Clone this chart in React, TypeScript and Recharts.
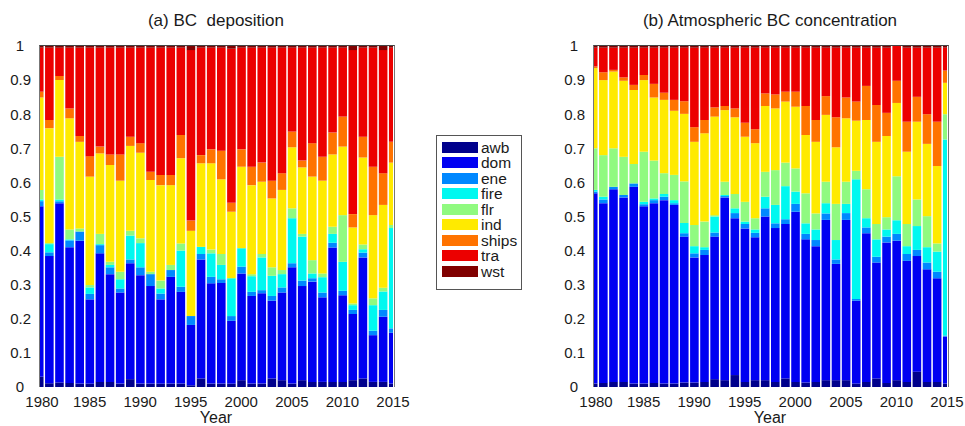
import React from 'react';
import { BarChart, Bar, XAxis, YAxis } from 'recharts';

// source categories, bottom to top of each stack
const CATEGORIES = ['awb', 'dom', 'ene', 'fire', 'flr', 'ind', 'ships', 'tra', 'wst'];
const COLORS: Record<string, string> = {
  awb: '#00008c',
  dom: '#0000f2',
  ene: '#0088ff',
  fire: '#00f8f0',
  flr: '#90fa80',
  ind: '#ffea00',
  ships: '#ff7300',
  tra: '#ec0000',
  wst: '#800000',
};

const YEARS = [
  1980, 1981, 1982, 1983, 1984, 1985, 1986, 1987, 1988, 1989, 1990, 1991,
  1992, 1993, 1994, 1995, 1996, 1997, 1998, 1999, 2000, 2001, 2002, 2003,
  2004, 2005, 2006, 2007, 2008, 2009, 2010, 2011, 2012, 2013, 2014, 2015,
];
const X_TICKS = [1980, 1985, 1990, 1995, 2000, 2005, 2010, 2015];
const Y_TICKS = [0, 0.1, 0.2, 0.3, 0.4, 0.5, 0.6, 0.7, 0.8, 0.9, 1];

// (a) BC deposition, fraction by source
const depAwb = [.03, .011, .013, .012, .01, .01, .015, .015, .01, .023, .01, .01, .01, .01, .01, .005, .025, .01, .01, .01, .02, .01, .01, .025, .02, .01, .02, .015, .015, .015, .015, .02, .025, .015, .015, .01];
const depDom = [.50, .373, .526, .398, .419, .247, .377, .316, .267, .34, .318, .286, .247, .313, .269, .177, .349, .294, .295, .184, .313, .257, .265, .228, .257, .341, .276, .294, .248, .394, .254, .194, .355, .137, .191, .149];
const depEne = [.015, .011, .006, .02, .027, .016, .024, .02, .012, .011, .023, .035, .017, .02, .015, .026, .016, .019, .011, .014, .02, .012, .009, .014, .015, .012, .016, .01, .014, .014, .013, .012, .014, .013, .02, .013];
const depFire = [.005, .024, .005, .003, 0, .019, .003, .007, .027, .07, .071, 0, .015, 0, .106, 0, .021, .069, .042, .111, .054, .046, .096, .059, .039, .132, .129, .014, .045, .026, .085, .014, .01, .075, .054, .294];
const depFlr = [.028, .003, .125, .029, .009, .007, .03, .009, .022, .014, .014, .007, .023, .015, .021, 0, 0, .011, .032, 0, 0, .006, .01, .025, .012, .029, .008, .039, .011, .021, .137, .005, .014, .02, .011, .009];
const depInd = [.271, .337, .225, .326, .254, .318, .236, .284, .267, .249, .251, .269, .28, .234, .25, .25, .245, .253, .219, .195, .239, .261, .212, .202, .235, .179, .195, .245, .272, .212, .201, .223, .255, .244, .243, .183];
const depShips = [.017, .024, .012, .029, .017, .06, .02, .031, .077, .027, .028, .024, .03, .03, .068, .03, .024, .041, .084, .026, .051, .054, .056, .052, .049, .046, .02, .098, .07, .064, .088, .039, .061, .142, .093, .061];
const depTra = [.129, .212, .083, .178, .259, .318, .29, .313, .313, .261, .28, .364, .373, .373, .256, .50, .315, .298, .302, .452, .298, .349, .337, .39, .368, .246, .331, .28, .32, .249, .202, .481, .261, .349, .361, .276];
const depWst = [.005, .005, .005, .005, .005, .005, .005, .005, .005, .005, .005, .005, .005, .005, .005, .012, .005, .005, .005, .008, .005, .005, .005, .005, .005, .005, .005, .005, .005, .005, .005, .012, .005, .005, .012, .005];

// (b) atmospheric BC concentration, fraction by source
const concAwb = [.01, .012, .015, .015, .01, .01, .012, .01, .01, .013, .013, .015, .023, .02, .035, .015, .02, .02, .015, .025, .015, .013, .015, .02, .02, .02, .01, .015, .025, .012, .02, .015, .045, .015, .015, .01];
const concDom = [.558, .527, .565, .541, .577, .52, .527, .538, .524, .428, .367, .372, .418, .536, .46, .45, .419, .48, .451, .453, .499, .42, .398, .47, .341, .47, .243, .436, .34, .412, .409, .355, .339, .33, .304, .138];
const concEne = [.005, .011, .007, .007, .01, .006, .009, .01, .005, .01, .012, .015, .012, .004, .015, .013, .013, .024, .014, .014, .023, .016, .018, .019, .013, .02, .005, .017, .017, .017, .02, .02, .018, .02, .019, .003];
const concFire = [.005, .008, 0, 0, 0, .007, .005, .008, .009, .03, .021, .008, .047, .003, .014, .007, .01, .034, .054, .097, .036, .031, .031, .03, .057, .027, .351, .027, .051, .021, .04, .023, .07, .045, .059, .575];
const concFlr = [.122, .122, .113, .112, .057, .147, .111, .061, .074, .122, .062, .075, .004, .039, .042, .058, .033, .073, .102, .069, .068, .088, .047, .063, .106, .065, .025, .085, .045, .036, .129, .065, .078, .091, .024, .074];
const concInd = [.235, .22, .225, .223, .217, .21, .185, .215, .188, .198, .244, .259, .289, .21, .225, .191, .22, .193, .181, .179, .181, .171, .21, .196, .166, .186, .147, .203, .241, .238, .215, .212, .228, .212, .227, .092];
const concShips = [.005, .023, .005, .01, .015, .015, .04, .021, .032, .037, .043, .039, .027, .012, .026, .041, .041, .037, .041, .029, .044, .085, .064, .055, .088, .061, .056, .10, .108, .068, .065, .088, .073, .087, .13, .036];
const concTra = [.055, .072, .065, .087, .109, .08, .106, .132, .153, .157, .233, .212, .175, .171, .178, .22, .239, .134, .137, .129, .129, .171, .212, .142, .204, .146, .158, .112, .168, .191, .137, .217, .144, .195, .217, .067];
const concWst = [.005, .005, .005, .005, .005, .005, .005, .005, .005, .005, .005, .005, .005, .005, .005, .005, .005, .005, .005, .005, .005, .005, .005, .005, .005, .005, .005, .005, .005, .005, .005, .005, .005, .005, .005, .005];

const depSeries = [depAwb, depDom, depEne, depFire, depFlr, depInd, depShips, depTra, depWst];
const concSeries = [concAwb, concDom, concEne, concFire, concFlr, concInd, concShips, concTra, concWst];

const buildRows = (series: number[][]) =>
  YEARS.map((year, i) => {
    const row: Record<string, number> = { year };
    CATEGORIES.forEach((cat, c) => {
      row[cat] = series[c][i];
    });
    return row;
  });

const depositionData = buildRows(depSeries);
const concentrationData = buildRows(concSeries);

const FONT = '"Liberation Sans", Arial, Helvetica, sans-serif';
const TEXT = '#1a1a1a';

const PANEL_W = 410;
const PANEL_H = 426;
const PLOT_LEFT = 39;
const PLOT_TOP = 46;
const PLOT_W = 354;
const PLOT_H = 341;

// x labels: the first one sits a little right of its tick, like the original
const YearTick = (props: any) => {
  const { x, y, payload } = props;
  const shift = payload.value === 1980 ? 3 : 0;
  return (
    <text x={x + shift} y={y} dy="0.71em" textAnchor="middle" fill={TEXT} fontSize={15} fontFamily={FONT}>
      {payload.value}
    </text>
  );
};

// y labels: whole numbers (0 and 1) are set further left than the decimals
const FractionTick = (props: any) => {
  const { x, y, payload } = props;
  const whole = payload.value === 0 || payload.value === 1;
  return (
    <text x={whole ? x - 7 : x} y={y} dy="0.355em" textAnchor="end" fill={TEXT} fontSize={15} fontFamily={FONT}>
      {payload.value}
    </text>
  );
};

function StackPanel({
  data,
  left,
  title,
}: {
  data: Record<string, number>[];
  left: number;
  title: string;
}) {
  return (
    <div style={{ position: 'absolute', left, top: 0, width: PANEL_W, height: PANEL_H }}>
      <BarChart
        width={PANEL_W}
        height={PANEL_H}
        data={data}
        margin={{ top: PLOT_TOP, right: PANEL_W - PLOT_LEFT - PLOT_W, bottom: 0, left: 9 }}
        barSize={8.6}
      >
        <XAxis
          type="number"
          dataKey="year"
          domain={[1980, 2015]}
          ticks={X_TICKS}
          interval={0}
          allowDataOverflow
          height={PANEL_H - PLOT_TOP - PLOT_H}
          axisLine={false}
          tickLine={false}
          tickMargin={3}
          tick={<YearTick />}
        />
        <YAxis
          type="number"
          domain={[0, 1]}
          ticks={Y_TICKS}
          interval={0}
          allowDataOverflow
          width={30}
          axisLine={false}
          tickLine={false}
          tick={<FractionTick />}
        />
        {CATEGORIES.map((cat) => (
          <Bar key={cat} dataKey={cat} stackId="src" fill={COLORS[cat]} isAnimationActive={false} />
        ))}
      </BarChart>
      {/* axes box */}
      <div
        style={{
          position: 'absolute',
          left: PLOT_LEFT,
          top: PLOT_TOP - 1,
          width: PLOT_W,
          height: PLOT_H,
          borderTop: '1px solid #444',
          borderLeft: '1px solid #777',
          borderRight: '1px solid #777',
          pointerEvents: 'none',
        }}
      />
      <div
        style={{
          position: 'absolute',
          left: PLOT_LEFT,
          width: PLOT_W,
          top: 11,
          lineHeight: '20px',
          fontSize: 17,
          fontFamily: FONT,
          color: TEXT,
          textAlign: 'center',
          whiteSpace: 'pre',
        }}
      >
        {title}
      </div>
      <div
        style={{
          position: 'absolute',
          left: PLOT_LEFT,
          width: PLOT_W,
          top: 408,
          lineHeight: '20px',
          fontSize: 16,
          fontFamily: FONT,
          color: TEXT,
          textAlign: 'center',
        }}
      >
        Year
      </div>
    </div>
  );
}

function SourceLegend() {
  return (
    <div
      style={{
        position: 'absolute',
        left: 436,
        top: 135,
        width: 84,
        height: 153,
        border: '1px solid #555',
        background: '#fff',
        fontFamily: FONT,
        color: TEXT,
        fontSize: 15.5,
      }}
    >
      {CATEGORIES.map((cat, i) => (
        <div
          key={cat}
          style={{ position: 'absolute', left: 0, top: 3.5 + i * 15.5, height: 15.5, width: 100 }}
        >
          <div
            style={{
              position: 'absolute',
              left: 5,
              top: 2,
              width: 36,
              height: 11,
              background: COLORS[cat],
            }}
          />
          <div style={{ position: 'absolute', left: 44, top: -1, lineHeight: '17px' }}>{cat}</div>
        </div>
      ))}
    </div>
  );
}

export default function App() {
  return (
    <div
      style={{
        position: 'absolute',
        left: 0,
        top: 0,
        width: 965,
        height: 426,
        background: '#fff',
        overflow: 'hidden',
      }}
    >
      <StackPanel data={depositionData} left={0} title="(a) BC  deposition" />
      <StackPanel data={concentrationData} left={554} title="(b) Atmospheric BC concentration" />
      <SourceLegend />
    </div>
  );
}
